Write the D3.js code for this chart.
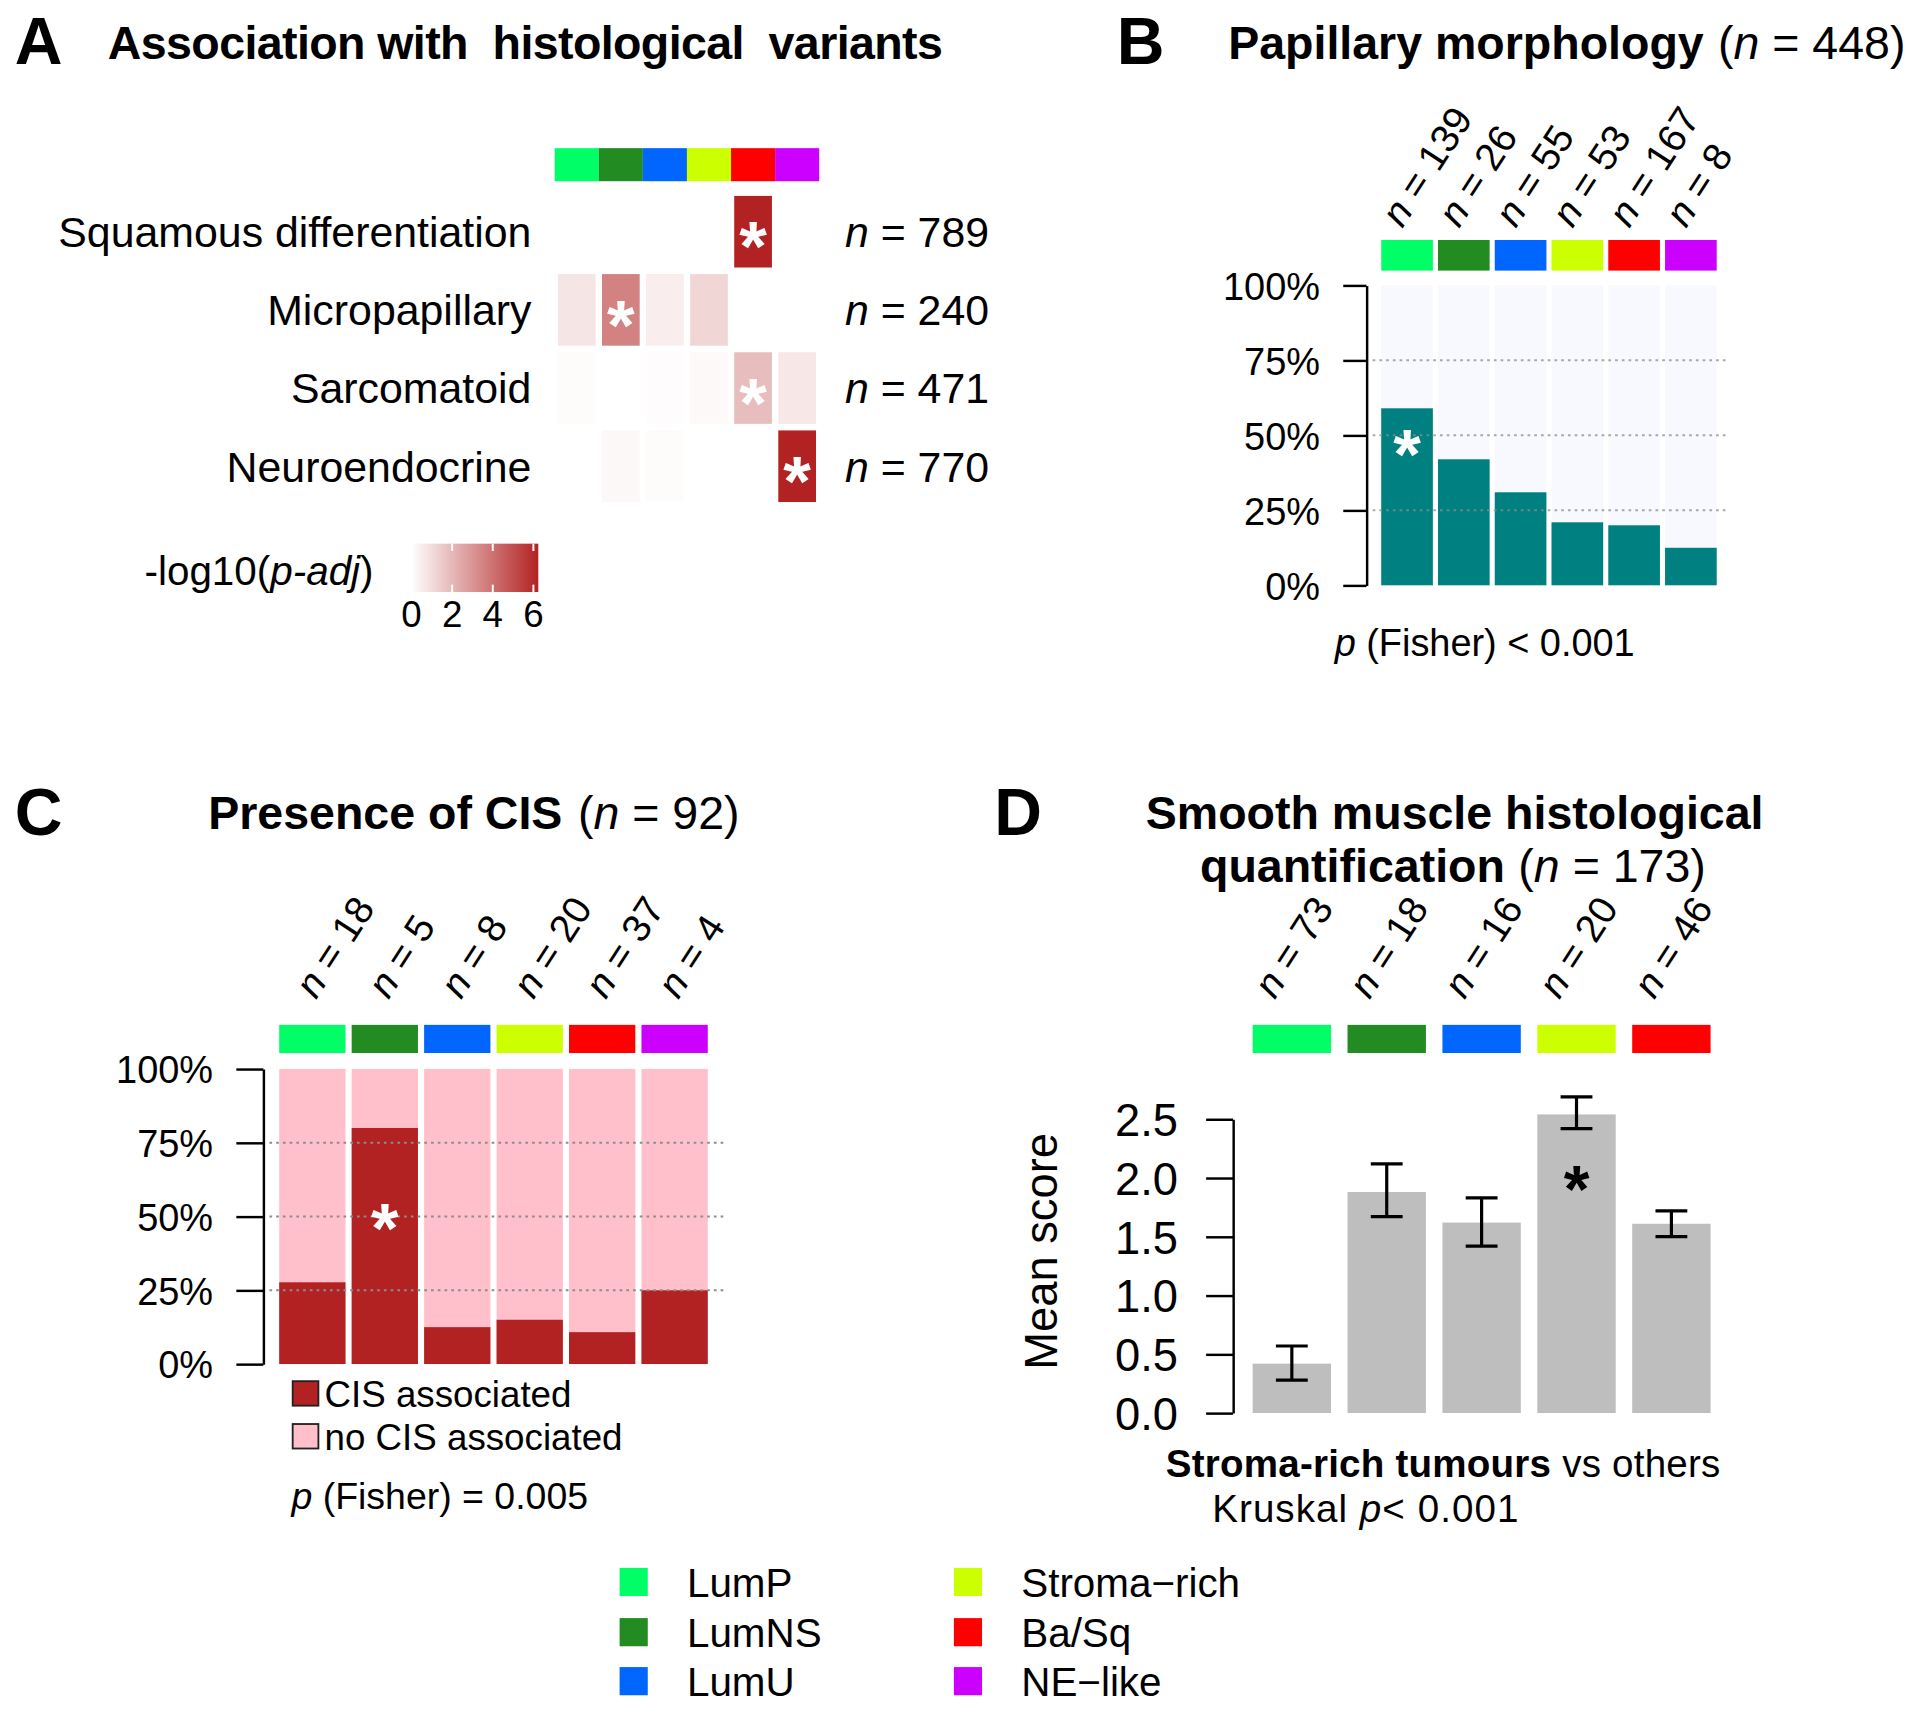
<!DOCTYPE html>
<html>
<head>
<meta charset="utf-8">
<script src="https://cdn.jsdelivr.net/npm/d3@7"></script>
<style>
  body { margin: 0; background: #fff; }
  svg { display: block; }
  text { font-family: "Liberation Sans", Arial, sans-serif; fill: #000; }
</style>
</head>
<body>
<div id="chart"></div>
<script>
// ---- data ----
const subtypes = ["LumP", "LumNS", "LumU", "Stroma-rich", "Ba/Sq", "NE-like"];
const subtypeLabels = ["LumP", "LumNS", "LumU", "Stroma\u2212rich", "Ba/Sq", "NE\u2212like"];
const subtypeColors = ["#00FF66", "#228B22", "#0066FF", "#CCFF00", "#FF0000", "#CC00FF"];

// A: -log10(p-adj) per variant x subtype
const variants = ["Squamous differentiation", "Micropapillary", "Sarcomatoid", "Neuroendocrine"];
const variantN = [789, 240, 471, 770];
const variantLogP = [
  [0, 0, 0, 0, 6, 0],
  [0.7, 3.4, 0.5, 1.1, 0, 0],
  [0.1, 0, 0.08, 0.15, 1.8, 0.65],
  [0, 0.2, 0.1, 0, 0, 6],
];
const variantSig = [4, 1, 4, 5]; // subtype index with asterisk per row
const heatTicks = [0, 2, 4, 6];

// B: papillary morphology
const papN = [139, 26, 55, 53, 167, 8];
const papFrac = [0.59, 0.42, 0.31, 0.21, 0.2, 0.125];
const papSig = 0;

// C: presence of CIS
const cisN = [18, 5, 8, 20, 37, 4];
const cisFrac = [0.277, 0.8, 0.125, 0.15, 0.108, 0.25];
const cisSig = 1;

// D: smooth muscle score
const smSubtypes = subtypes.slice(0, 5);
const smN = [73, 18, 16, 20, 46];
const smMean = [0.42, 1.88, 1.62, 2.54, 1.61];
const smLow = [0.28, 1.67, 1.42, 2.42, 1.5];
const smHigh = [0.57, 2.12, 1.83, 2.69, 1.72];
const smSig = 3;

const pctTicks = [0, 0.25, 0.5, 0.75, 1];
const scoreTicks = [0, 0.5, 1, 1.5, 2, 2.5];

// ---- drawing ----
const W = 1568, H = 1399;
const svg = d3.select("#chart").append("svg")
  .attr("width", 1920).attr("height", 1713)
  .attr("viewBox", [0, 0, W, H]);

// text made of parts: "plain" or {t, i, b}
function rich(g, x, y, parts, size, anchor) {
  const t = g.append("text").attr("x", x).attr("y", y)
    .attr("font-size", size).attr("text-anchor", anchor || "start");
  parts.forEach((p) => {
    const s = typeof p === "string" ? { t: p } : p;
    t.append("tspan").text(s.t)
      .attr("font-style", s.i ? "italic" : null)
      .attr("font-weight", s.b ? "bold" : null);
  });
  return t;
}

function star(g, cx, cy, color, size) {
  g.append("text").attr("x", cx).attr("y", cy + size * 0.56)
    .attr("text-anchor", "middle").attr("font-weight", "bold")
    .attr("font-size", size).style("fill", color).text("*");
}

function nLabels(g, scale, ns, dx, y) {
  ns.forEach((n, i) => {
    const x = scale(scale.domain()[i]) + scale.bandwidth() / 2 + dx;
    g.append("text").attr("transform", `translate(${x},${y}) rotate(-57)`)
      .attr("font-size", 32)
      .call((t) => {
        t.append("tspan").attr("font-style", "italic").text("n");
        t.append("tspan").text(" = " + n);
      });
  });
}

function colorBar(g, scale, y, h) {
  g.selectAll(null).data(scale.domain()).join("rect")
    .attr("x", (d) => scale(d)).attr("y", y)
    .attr("width", scale.bandwidth()).attr("height", h)
    .attr("fill", (d) => subtypeColors[subtypes.indexOf(d)]);
}

function grid(g, y, vals, x0, x1, color) {
  g.selectAll(null).data(vals).join("line")
    .attr("x1", x0).attr("x2", x1)
    .attr("y1", (d) => y(d)).attr("y2", (d) => y(d))
    .attr("stroke", color).attr("stroke-width", 1.6)
    .attr("stroke-dasharray", "2.2,3.3");
}

function yAxis(g, x, y, ticks, fmt, size, tick, pad) {
  const ax = g.append("g").attr("transform", `translate(${x},0)`)
    .call(d3.axisLeft(y).tickValues(ticks).tickFormat(fmt)
      .tickSize(tick).tickSizeOuter(0).tickPadding(pad));
  ax.attr("font-family", null).attr("font-size", size);
  ax.selectAll("path, line").attr("stroke", "#000").attr("stroke-width", 2);
  ax.selectAll("text").attr("dy", "0.36em");
  return ax;
}

// panel letters
[["A", 12, 52], ["B", 912, 52], ["C", 12, 682], ["D", 812, 682]].forEach(([l, x, y]) => {
  svg.append("text").attr("x", x).attr("y", y).attr("font-size", 54)
    .attr("font-weight", "bold").text(l);
});

// ===== Panel A =====
const gA = svg.append("g");
rich(gA, 88, 48, [{ t: "Association with  histological  variants", b: true }], 38)
  .attr("xml:space", "preserve").attr("textLength", 682);

const colA = d3.scaleBand().domain(subtypes).range([453, 669]);
const rowA = d3.scaleBand().domain(variants).range([160, 410]).paddingInner(0.084);
const heat = d3.scaleLinear().domain([0, 6]).range(["#ffffff", "#B22222"]).clamp(true);

colorBar(gA, colA, 121, 27);

variants.forEach((v, r) => {
  const y0 = rowA(v), cy = y0 + rowA.bandwidth() / 2;
  subtypes.forEach((s, c) => {
    gA.append("rect").attr("x", colA(s) + 2.6).attr("y", y0)
      .attr("width", colA.bandwidth() - 5.2).attr("height", rowA.bandwidth())
      .attr("fill", heat(variantLogP[r][c]));
  });
  const sx = colA(subtypes[variantSig[r]]) + colA.bandwidth() / 2;
  star(gA, sx, cy, "#fff", 58);
  gA.append("text").attr("x", 434).attr("y", cy + 12.5).attr("font-size", 35)
    .attr("text-anchor", "end").text(v);
  rich(gA, 690, cy + 12.5, [{ t: "n", i: true }, " = " + variantN[r]], 35);
});

// colour key
const keyX = d3.scaleLinear().domain([0, 6]).range([336, 435.6]);
const grad = svg.append("defs").append("linearGradient").attr("id", "heatgrad");
grad.append("stop").attr("offset", "0%").attr("stop-color", "#ffffff");
grad.append("stop").attr("offset", "100%").attr("stop-color", heat(6.2));
gA.append("rect").attr("x", keyX(0)).attr("y", 444)
  .attr("width", 439.6 - keyX(0)).attr("height", 39.5).attr("fill", "url(#heatgrad)");
heatTicks.slice(1).forEach((v) => {
  [[444, 450], [477.5, 483.5]].forEach(([a, b]) => {
    gA.append("line").attr("x1", keyX(v)).attr("x2", keyX(v)).attr("y1", a).attr("y2", b)
      .attr("stroke", "#fff").attr("stroke-width", 1.6);
  });
});
heatTicks.forEach((v) => {
  gA.append("text").attr("x", keyX(v)).attr("y", 512).attr("font-size", 30)
    .attr("text-anchor", "middle").text(v);
});
rich(gA, 118, 478, ["-log10(", { t: "p", i: true }, { t: "-adj", i: true }, ")"], 33);

// ===== Panel B =====
const gB = svg.append("g");
rich(gB, 1003, 48, [{ t: "Papillary morphology", b: true }], 38);
rich(gB, 1403, 48, ["(", { t: "n", i: true }, " = 448)"], 38);

const xB = d3.scaleBand().domain(subtypes).range([1128, 1402]).paddingInner(0.09);
const yB = d3.scaleLinear().domain([0, 1]).range([478, 233]);

colorBar(gB, xB, 196, 25);
nLabels(gB, xB, papN, -4, 187);

gB.selectAll(null).data(subtypes).join("rect")
  .attr("x", (d) => xB(d)).attr("y", yB(1))
  .attr("width", xB.bandwidth()).attr("height", yB(0) - yB(1))
  .attr("fill", "#F8F8FF");
gB.selectAll(null).data(papFrac).join("rect")
  .attr("x", (d, i) => xB(subtypes[i])).attr("y", (d) => yB(d))
  .attr("width", xB.bandwidth()).attr("height", (d) => yB(0) - yB(d))
  .attr("fill", "#008080");
grid(gB, yB, [0.25, 0.5, 0.75], 1121, 1410, "rgba(140,140,140,0.75)");
star(gB, xB(subtypes[papSig]) + xB.bandwidth() / 2, 359, "#fff", 58);
yAxis(gB, 1116, yB, pctTicks, d3.format(".0%"), 31, 19, 19);
rich(gB, 1090, 536, [{ t: "p", i: true }, " (Fisher) < 0.001"], 31)
  .attr("textLength", 245);

// ===== Panel C =====
const gC = svg.append("g");
rich(gC, 170, 677, [{ t: "Presence of CIS", b: true }], 38);
rich(gC, 472, 677, ["(", { t: "n", i: true }, " = 92)"], 38);

const xC = d3.scaleBand().domain(subtypes).range([228, 578]).paddingInner(0.085);
const yC = d3.scaleLinear().domain([0, 1]).range([1114, 873]);

colorBar(gC, xC, 837, 23);
nLabels(gC, xC, cisN, 3, 817);

gC.selectAll(null).data(subtypes).join("rect")
  .attr("x", (d) => xC(d)).attr("y", yC(1))
  .attr("width", xC.bandwidth()).attr("height", yC(0) - yC(1))
  .attr("fill", "#FFC0CB");
gC.selectAll(null).data(cisFrac).join("rect")
  .attr("x", (d, i) => xC(subtypes[i])).attr("y", (d) => yC(d))
  .attr("width", xC.bandwidth()).attr("height", (d) => yC(0) - yC(d))
  .attr("fill", "#B22222");
grid(gC, yC, [0.25, 0.5, 0.75], 220, 592, "#8c8c8c");
star(gC, xC(subtypes[cisSig]) + xC.bandwidth() / 2, 991, "#fff", 58);
yAxis(gC, 215, yC, pctTicks, d3.format(".0%"), 31, 22, 19);

[["#B22222", "CIS associated", 1138], ["#FFC0CB", "no CIS associated", 1173]].forEach(([c, t, y]) => {
  gC.append("rect").attr("x", 239).attr("y", y - 10).attr("width", 21).attr("height", 20)
    .attr("fill", c).attr("stroke", "#222").attr("stroke-width", 1.5);
  gC.append("text").attr("x", 265).attr("y", y + 11).attr("font-size", 30).text(t);
});
rich(gC, 238, 1232, [{ t: "p", i: true }, " (Fisher) = 0.005"], 30.6);

// ===== Panel D =====
const gD = svg.append("g");
rich(gD, 1188, 677, [{ t: "Smooth muscle histological", b: true }], 38, "middle");
rich(gD, 980, 720, [{ t: "quantification", b: true }], 38);
rich(gD, 1240, 720, ["(", { t: "n", i: true }, " = 173)"], 38);

const xD = d3.scaleBand().domain(smSubtypes).range([1023, 1397]).paddingInner(0.174);
const yD = d3.scaleLinear().domain([0, 2.5]).range([1154, 914]);

colorBar(gD, xD, 837, 23);
nLabels(gD, xD, smN, -14, 817);

gD.selectAll(null).data(smMean).join("rect")
  .attr("x", (d, i) => xD(smSubtypes[i])).attr("y", (d) => yD(d))
  .attr("width", xD.bandwidth()).attr("height", (d) => yD(0) - yD(d))
  .attr("fill", "#BEBEBE");
smSubtypes.forEach((s, i) => {
  const cx = xD(s) + xD.bandwidth() / 2, hw = 13;
  const eb = gD.append("g").attr("stroke", "#000").attr("stroke-width", 2.6);
  eb.append("line").attr("x1", cx).attr("x2", cx).attr("y1", yD(smLow[i])).attr("y2", yD(smHigh[i]));
  [smLow[i], smHigh[i]].forEach((v) => {
    eb.append("line").attr("x1", cx - hw).attr("x2", cx + hw).attr("y1", yD(v)).attr("y2", yD(v));
  });
});
star(gD, xD(smSubtypes[smSig]) + xD.bandwidth() / 2, 960, "#000", 54);
yAxis(gD, 1007, yD, scoreTicks, d3.format(".1f"), 37, 22, 23);
gD.append("text").attr("transform", "translate(863,1022) rotate(-90)")
  .attr("font-size", 37).attr("text-anchor", "middle").text("Mean score");
rich(gD, 952, 1206, [{ t: "Stroma-rich tumours", b: true }, " vs others"], 31.5)
  .attr("textLength", 453);
rich(gD, 990, 1243, ["Kruskal ", { t: "p", i: true }, "< 0.001"], 31.5)
  .attr("textLength", 250);

// ===== shared subtype legend =====
const gL = svg.append("g");
subtypes.forEach((s, i) => {
  const x = i < 3 ? 506 : 779, y = [1292, 1333, 1373][i % 3];
  gL.append("rect").attr("x", x).attr("y", y - 11.5).attr("width", 23).attr("height", 23)
    .attr("fill", subtypeColors[i]);
  gL.append("text").attr("x", x + 55).attr("y", y + 12).attr("font-size", 33).text(subtypeLabels[i]);
});
</script>
</body>
</html>
